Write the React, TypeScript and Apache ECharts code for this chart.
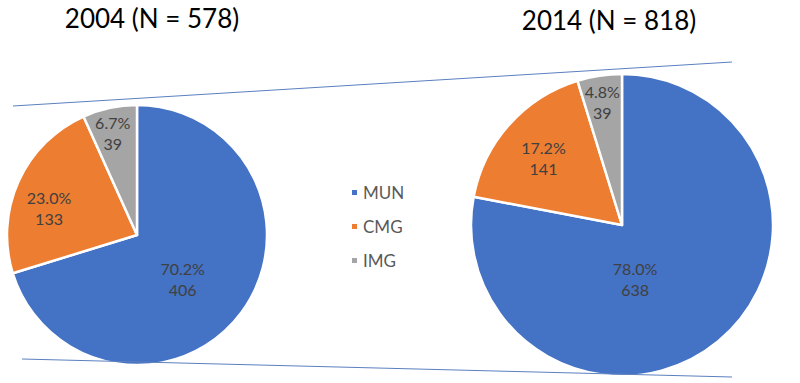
import React, { useEffect, useRef } from "react";
import * as echarts from "echarts";

const categories = ["MUN", "CMG", "IMG"];
const values2004 = [406, 133, 39];
const values2014 = [638, 141, 39];
const titles = ["2004 (N = 578)", "2014 (N = 818)"];
const colors = ["#4472C4", "#ED7D31", "#A5A5A5"];

// label nudges (styling, px) relative to ECharts' inside position
const offsets2004 = [[-9, 4], [-26, 1], [-10, -36]];
const offsets2014 = [[-37, -6], [-20, -15], [-8, -45]];

const FONT = "Lato, 'Open Sans', sans-serif";

function makeSeries(values: number[], offs: number[][], center: number[], radius: number) {
  const total = values.reduce((a, b) => a + b, 0);
  return {
    type: "pie",
    center,
    radius,
    startAngle: 90,
    clockwise: true,
    avoidLabelOverlap: false,
    itemStyle: { borderColor: "#ffffff", borderWidth: 2.5 },
    label: {
      show: true,
      position: "inside",
      color: "#404040",
      fontFamily: FONT,
      fontSize: 16,
      lineHeight: 21,
      formatter: (p: any) => `${((p.value / total) * 100).toFixed(1)}%\n${p.value}`,
    },
    labelLine: { show: false },
    emphasis: { disabled: true },
    data: values.map((v, i) => ({
      name: categories[i],
      value: v,
      itemStyle: { color: colors[i] },
      label: { offset: offs[i] },
    })),
  };
}

export default function App() {
  const ref = useRef<HTMLDivElement>(null);
  useEffect(() => {
    document.body.style.margin = "0";
    const chart = echarts.init(ref.current!, null, { renderer: "svg" });
    chart.setOption({
      animation: false,
      backgroundColor: "#ffffff",
      color: colors,
      legend: {
        orient: "vertical",
        left: 345,
        top: 179,
        icon: "rect",
        itemWidth: 7,
        itemHeight: 7,
        itemGap: 17,
        selectedMode: false,
        data: categories,
        textStyle: { color: "#595959", fontFamily: FONT, fontSize: 17, padding: [0, 0, 0, 0] },
      },
      graphic: [
        {
          type: "text",
          x: 152,
          y: 18,
          style: {
            text: titles[0],
            fontFamily: FONT,
            fontSize: 26,
            fill: "#000000",
            textAlign: "center",
            textVerticalAlign: "middle",
          },
        },
        {
          type: "text",
          x: 609,
          y: 20,
          style: {
            text: titles[1],
            fontFamily: FONT,
            fontSize: 26,
            fill: "#000000",
            textAlign: "center",
            textVerticalAlign: "middle",
          },
        },
        {
          type: "line",
          shape: { x1: 13, y1: 106, x2: 732, y2: 62 },
          style: { stroke: "#5B7FBF", lineWidth: 1 },
          z: 10,
        },
        {
          type: "line",
          shape: { x1: 22, y1: 359, x2: 732, y2: 377 },
          style: { stroke: "#5B7FBF", lineWidth: 1 },
          z: 10,
        },
      ],
      series: [
        makeSeries(values2004, offsets2004, [137, 235], 130),
        makeSeries(values2014, offsets2014, [622, 225], 151),
      ],
    });
    return () => chart.dispose();
  }, []);
  return <div ref={ref} style={{ width: 800, height: 383 }} />;
}
